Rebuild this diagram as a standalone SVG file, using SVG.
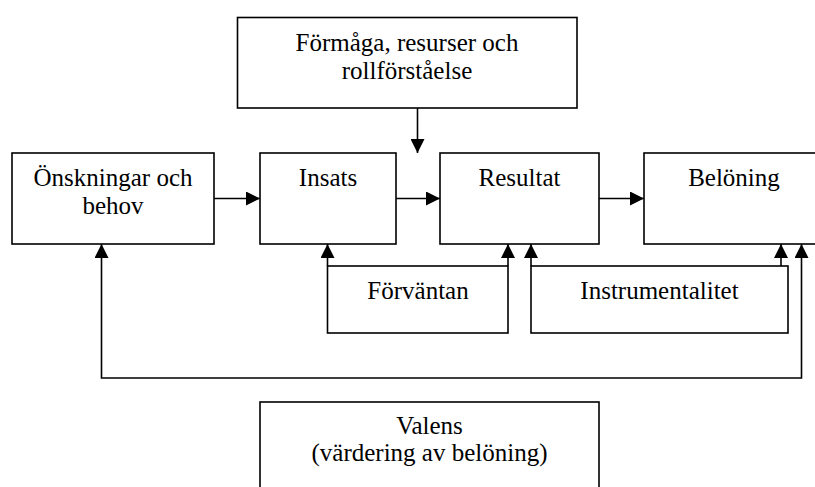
<svg xmlns="http://www.w3.org/2000/svg" width="815" height="487" viewBox="0 0 815 487">
<style>
.box{fill:#fff;stroke:#000;stroke-width:1.6}
.t{font-family:"Liberation Serif","Times New Roman",serif;font-size:25px;fill:#000;text-anchor:middle}
.c{fill:none;stroke:#000;stroke-width:1.6}
</style>
<defs>
<marker id="ah" markerUnits="userSpaceOnUse" markerWidth="14" markerHeight="14" refX="14" refY="7" orient="auto" viewBox="0 0 14 14">
<path d="M0,0 L14,7 L0,14 z" fill="#000"/>
</marker>
</defs>
<rect width="815" height="487" fill="#fff"/>
<g id="connectors">
<path class="c" d="M214,198.5 H260" marker-end="url(#ah)"/>
<path class="c" d="M396,198.5 H440" marker-end="url(#ah)"/>
<path class="c" d="M599,198.5 H644" marker-end="url(#ah)"/>
<path class="c" d="M417.5,108 V153" marker-end="url(#ah)"/>
<path class="c" d="M327.5,266 V244" marker-end="url(#ah)"/>
<path class="c" d="M508,266 V244" marker-end="url(#ah)"/>
<path class="c" d="M531,266 V244" marker-end="url(#ah)"/>
<path class="c" d="M781,266 V244" marker-end="url(#ah)"/>
<path class="c" d="M450,378 H101.5 V244" marker-end="url(#ah)"/>
<path class="c" d="M450,378 H801.5 V244" marker-end="url(#ah)"/>
</g>
<g id="formaga">
<rect class="box" x="237.5" y="17.5" width="339.5" height="90.5"/>
<text class="t" x="407" y="51">Förmåga, resurser och</text>
<text class="t" x="407" y="79">rollförståelse</text>
</g>
<g id="onskningar">
<rect class="box" x="12" y="153" width="202" height="91"/>
<text class="t" x="113" y="186">Önskningar och</text>
<text class="t" x="113" y="214">behov</text>
</g>
<g id="insats">
<rect class="box" x="260" y="153" width="136" height="91"/>
<text class="t" x="328" y="186">Insats</text>
</g>
<g id="resultat">
<rect class="box" x="440" y="153" width="159" height="91"/>
<text class="t" x="519.5" y="186">Resultat</text>
</g>
<g id="beloning">
<rect class="box" x="644" y="153" width="180" height="91"/>
<text class="t" x="734" y="186">Belöning</text>
</g>
<g id="forvantan">
<rect class="box" x="327.5" y="266" width="180.5" height="67"/>
<text class="t" x="418" y="299">Förväntan</text>
</g>
<g id="instrumentalitet">
<rect class="box" x="531" y="266" width="257" height="67"/>
<text class="t" x="659.5" y="299">Instrumentalitet</text>
</g>
<g id="valens">
<rect class="box" x="260" y="402" width="339" height="100"/>
<text class="t" x="429.5" y="434">Valens</text>
<text class="t" x="429.5" y="461">(värdering av belöning)</text>
</g>
</svg>
